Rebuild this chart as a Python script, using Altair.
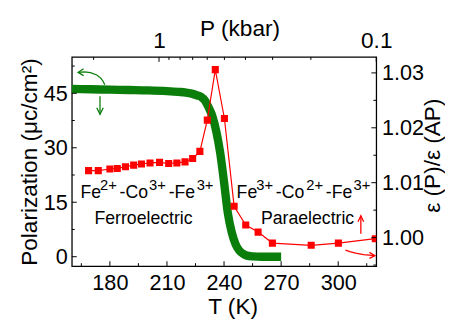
import altair as alt
import pandas as pd

# ---------------- data ----------------
# Polarization (left axis) vs T
pol_T = [160, 170, 180, 190, 200, 210, 216, 220, 223, 226, 228, 230, 232, 234, 236, 238,
         240, 242, 244, 246, 248, 250, 252, 255, 260, 270]
pol_P = [46.2, 46.1, 46.0, 45.9, 45.8, 45.6, 45.4, 45.2, 44.9, 44.4, 44.0, 43.0, 41.0, 38.5,
         34.3, 28.5, 20.5, 12.0, 6.8, 3.5, 1.7, 0.8, 0.3, 0.1, 0.0, 0.0]

# eps(P)/eps(AP) (right axis) vs T
eps_T = [168.8, 173.9, 180.0, 183.9, 188.2, 192.5, 196.6, 201.1, 206.1, 210.9, 215.2, 219.5,
         223.5, 227.3, 231.2, 235.4, 240.2, 245.3, 251.4, 257.9, 265.4, 285.8, 300.1, 319.5]
eps_R = [1.0122, 1.0122, 1.0125, 1.0126, 1.0129, 1.0132, 1.0134, 1.0136, 1.0137, 1.0135,
         1.0136, 1.0138, 1.0144, 1.0157, 1.0214, 1.0306, 1.0217, 1.0057, 1.0023, 1.0010,
         0.9990, 0.9986, 0.9990, 0.9998]

# axis ticks
x_major = [180, 210, 240, 270, 300]
x_minor = [165, 195, 225, 255, 285, 315]
yl_major = [0, 15, 30, 45]
yl_minor = [7.5, 22.5, 37.5, 52.5]
yr_major = [1.00, 1.01, 1.02, 1.03]
yr_minor = [0.995, 1.005, 1.015, 1.025]
p_major = [1, 0.1]
p_minor = [2, 0.9, 0.8, 0.7, 0.6, 0.5, 0.4, 0.3, 0.2]

# annotations: ion labels are built from base pieces plus superscripts
ion_base_text = ["Fe", "-Co", "-Fe", "Fe", "-Co", "-Fe"]
ion_base_T = [164.5, 185.1, 210.9, 246.6, 267.2, 293.5]
ion_sup_text = ["2+", "3+", "3+", "3+", "2+", "3+"]
ion_sup_T = [174.8, 200.6, 225.6, 256.9, 283.2, 308.1]
ion_P = 16.25
phase_text = ["Ferroelectric", "Paraelectric"]
phase_T = [197.7, 283.9]
phase_P = [9.0, 9.0]

# arrows: (group, colour, T list, P list)
arrow_groups = ["g_arc", "g_head1", "g_down", "g_head2", "r_up", "r_head1", "r_arc", "r_head2"]
arrow_colors = ["#0a7d0a"] * 4 + ["#ff0000"] * 4
arrow_T = [
    [163.3, 166.7, 169.8, 173.1, 175.2, 176.5, 177.3],
    [166.2, 163.3, 166.2],
    [174.8, 174.8],
    [173.1, 174.8, 176.5],
    [311.9, 311.9],
    [310.4, 311.9, 313.4],
    [303.8, 306.1, 309.2, 313.3, 319.3],
    [316.4, 319.3, 316.4],
]
arrow_P = [
    [50.75, 50.88, 50.67, 50.05, 49.18, 48.25, 47.35],
    [51.75, 50.75, 49.86],
    [44.2, 39.2],
    [41.0, 39.2, 41.0],
    [6.3, 11.3],
    [9.65, 11.3, 9.65],
    [1.81, 1.38, 0.97, 0.59, 0.29],
    [1.19, 0.29, -0.44],
]

# ---------------- chart ----------------
W, H = 310, 213
FONT = "Liberation Sans"
GREEN = "#0a7d0a"
RED = "#ff0000"

xs = alt.Scale(domain=[160, 320], nice=False, zero=False)
yl = alt.Scale(domain=[-2.6, 55], nice=False, zero=False)
yr = alt.Scale(domain=[0.9948, 1.0329], nice=False, zero=False)
ps = alt.Scale(type="log", domain=[2.52, 0.1], nice=False)

pol_df = pd.DataFrame({"T": pol_T, "P": pol_P})
eps_df = pd.DataFrame({"T": eps_T, "R": eps_R})

rows = []
for g, c, ts, pv in zip(arrow_groups, arrow_colors, arrow_T, arrow_P):
    for i, (t, p) in enumerate(zip(ts, pv)):
        rows.append({"g": g, "c": c, "o": i, "T": t, "P": p})
arrow_df = pd.DataFrame(rows)

base_df = pd.DataFrame({"text": ion_base_text, "T": ion_base_T, "P": [ion_P] * len(ion_base_T)})
sup_df = pd.DataFrame({"text": ion_sup_text, "T": ion_sup_T, "P": [ion_P] * len(ion_sup_T)})
phase_df = pd.DataFrame({"text": phase_text, "T": phase_T, "P": phase_P})

green = alt.Chart(pol_df).mark_line(color=GREEN, strokeWidth=8.5, interpolate="monotone",
                                    strokeCap="butt").encode(
    x=alt.X("T:Q", scale=xs, axis=alt.Axis(
        values=x_major, ticks=False, tickSize=0, domain=False, grid=False,
        labelFontSize=22, labelPadding=7, labelFlush=False, labelOverlap=False,
        title="T (K)", titleFontSize=23, titleFontWeight="normal",
        titleX=163.7, titleY=48.7, titleAlign="center", titleBaseline="alphabetic")),
    y=alt.Y("P:Q", scale=yl, axis=alt.Axis(
        values=yl_major, ticks=False, tickSize=0, domain=False, grid=False,
        labelFontSize=22, labelPadding=4.7, labelOverlap=False,
        title="Polarization (μc/cm²)", titleFontSize=23, titleFontWeight="normal",
        titleAngle=270, titleX=-36.3, titleY=106.5, titleAlign="center",
        titleBaseline="alphabetic")),
)

red_line = alt.Chart(eps_df).mark_line(color=RED, strokeWidth=1.2, clip=True).encode(
    x=alt.X("T:Q", scale=xs, axis=None),
    y=alt.Y("R:Q", scale=yr, axis=alt.Axis(
        orient="right", values=yr_major, format=".2f", ticks=False, tickSize=0,
        domain=False, grid=False, labelFontSize=22, labelPadding=5.3, labelOverlap=False,
        title="ε (P)/ε (AP)", titleFontSize=23, titleFontWeight="normal",
        titleAngle=270, titleX=64.5, titleY=100, titleAlign="center",
        titleBaseline="alphabetic")),
)
red_pts = alt.Chart(eps_df).mark_square(color=RED, size=52, opacity=1, clip=True).encode(
    x=alt.X("T:Q", scale=xs, axis=None),
    y=alt.Y("R:Q", scale=yr, axis=None),
)


def text_layer(df, size, align, dy=0):
    return alt.Chart(df).mark_text(font=FONT, fontSize=size, color="black", align=align,
                                   baseline="alphabetic", dy=dy).encode(
        x=alt.X("T:Q", scale=xs, axis=None),
        y=alt.Y("P:Q", scale=yl, axis=None),
        text="text:N",
    )


arrows = alt.Chart(arrow_df).mark_line(strokeWidth=1.3).encode(
    x=alt.X("T:Q", scale=xs, axis=None),
    y=alt.Y("P:Q", scale=yl, axis=None),
    color=alt.Color("c:N", scale=None),
    detail="g:N",
    order="o:Q",
)


def xticks(vals, scale, y0, y1):
    return alt.Chart(pd.DataFrame({"v": vals})).mark_rule(color="black", strokeWidth=1).encode(
        x=alt.X("v:Q", scale=scale, axis=None), y=alt.value(y0), y2=alt.value(y1))


def yticks(vals, scale, x0, x1):
    return alt.Chart(pd.DataFrame({"v": vals})).mark_rule(color="black", strokeWidth=1).encode(
        y=alt.Y("v:Q", scale=scale, axis=None), x=alt.value(x0), x2=alt.value(x1))


top_major = alt.Chart(pd.DataFrame({"v": p_major})).mark_rule(color="black", strokeWidth=1).encode(
    x=alt.X("v:Q", scale=ps, axis=alt.Axis(
        orient="top", values=p_major, format="~g", ticks=False, tickSize=0, domain=False,
        grid=False, labelFontSize=23, labelPadding=5, labelFlush=False, labelOverlap=False,
        title="P (kbar)", titleFontSize=23, titleFontWeight="normal",
        titleX=170.8, titleY=-21.7, titleAlign="center", titleBaseline="alphabetic")),
    y=alt.value(0), y2=alt.value(5),
)

layers = [
    green, red_line, red_pts,
    text_layer(base_df, 18, "left"), text_layer(sup_df, 15, "left", dy=-8),
    text_layer(phase_df, 18, "center"),
    arrows,
    xticks(x_major, xs, H, H - 5), xticks(x_minor, xs, H, H - 3),
    yticks(yl_major, yl, 0, 5), yticks(yl_minor, yl, 0, 3),
    yticks(yr_major, yr, W, W - 5), yticks(yr_minor, yr, W, W - 3),
    top_major, xticks(p_minor, ps, 0, 3),
]

chart = alt.layer(*layers).resolve_scale(x="independent", y="independent").properties(
    width=W, height=H,
    autosize=alt.AutoSizeParams(type="none"),
    padding={"left": 65, "top": 47, "right": 70, "bottom": 54},
    background="white",
).configure_view(stroke="black", strokeWidth=1.3).configure_axis(
    labelFont=FONT, titleFont=FONT, labelColor="black", titleColor="black"
)

chart.save("out.html", embed_options={"renderer": "svg", "actions": False})
